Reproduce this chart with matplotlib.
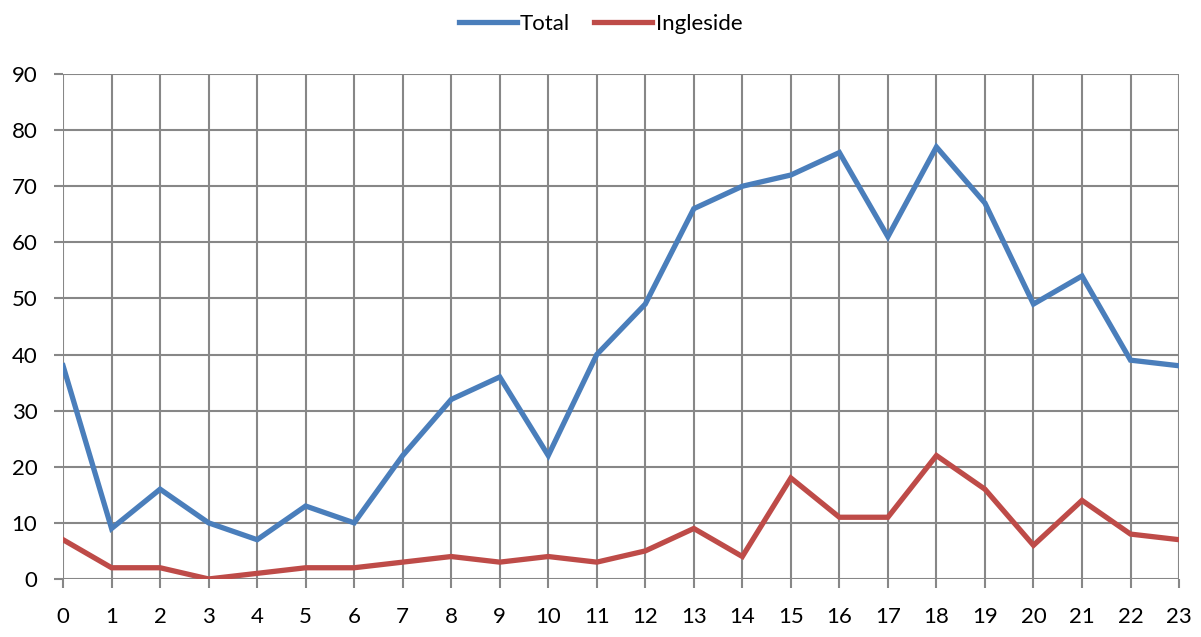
import numpy as np
import matplotlib.pyplot as plt

plt.rcParams['font.family'] = ['Lato', 'DejaVu Sans']

hours = list(range(24))
total = [38, 9, 16, 10, 7, 13, 10, 22, 32, 36, 22, 40, 49, 66, 70, 72, 76, 61, 77, 67, 49, 54, 39, 38]
ingleside = [7, 2, 2, 0, 1, 2, 2, 3, 4, 3, 4, 3, 5, 9, 4, 18, 11, 11, 22, 16, 6, 14, 8, 7]

grid_col = '#878787'

fig = plt.figure(figsize=(12.01, 6.37), dpi=100)
ax = fig.add_axes([0.0525, 0.0911, 0.9292, 0.7927])

ax.plot(hours, total, color='#4a7ebb', lw=3.8, label='Total', solid_joinstyle='miter')
ax.plot(hours, ingleside, color='#be4b48', lw=3.8, label='Ingleside', solid_joinstyle='miter')

ax.set_xlim(0, 23)
ax.set_ylim(0, 90)
ax.set_xticks(hours)
ax.set_yticks(range(0, 91, 10))
ax.grid(True, color=grid_col, lw=1.5)
ax.set_axisbelow(True)
for s in ax.spines.values():
    s.set_visible(False)
ax.tick_params(axis='both', color=grid_col, width=1.5, length=6.5, labelsize=16)
ax.tick_params(axis='x', pad=14)
ax.tick_params(axis='y', pad=12)

fig.legend(loc='upper center', bbox_to_anchor=(0.5, 1.01), ncol=2, frameon=False,
           fontsize=16, handlelength=2.6, columnspacing=1.1, handletextpad=0.15)

fig.savefig('out.png', dpi=100)
